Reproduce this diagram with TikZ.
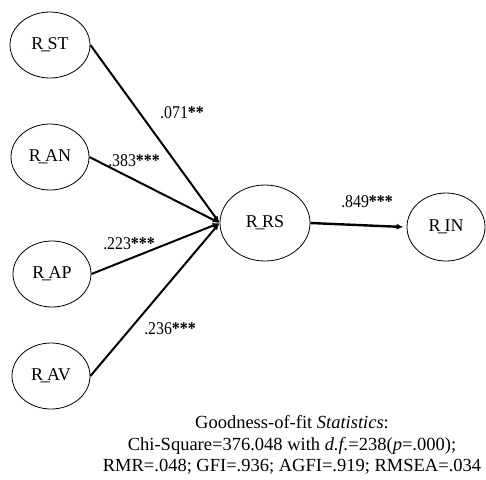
\documentclass[tikz,border=0pt]{standalone}
\usepackage{fontspec}
\usepackage{graphicx}
\setmainfont{Liberation Serif}
\usetikzlibrary{shapes.geometric,arrows.meta}
\newcommand\cf[1]{\scalebox{0.88}[1]{#1}}
\newcommand\vn[2]{#1\kern-2.5pt\_\kern-2.5pt#2}
\begin{document}
\begin{tikzpicture}[x=1pt,y=-1pt,
  latent/.style={draw,ellipse,line width=0.8pt,inner sep=0pt,font=\fontsize{18}{20}\selectfont},
  path/.style={line width=2pt,-{Latex[length=7pt,width=5.5pt]}},
  coef/.style={inner sep=0pt,font=\fontsize{18}{20}\selectfont},
  stats/.style={align=center,inner sep=0pt,font=\fontsize{18.5}{21.5}\selectfont}]
\useasboundingbox (0,0) rectangle (486,479);
\node[latent,minimum width=80pt,minimum height=66pt] (st) at (50,45) {\vn{R}{ST}};
\node[latent,minimum width=78pt,minimum height=66pt] (an) at (50,157) {\vn{R}{AN}};
\node[latent,minimum width=78pt,minimum height=66pt] (ap) at (52,274) {\vn{R}{AP}};
\node[latent,minimum width=78pt,minimum height=66pt] (av) at (51,376) {\vn{R}{AV}};
\node[latent,minimum width=90pt,minimum height=76pt] (rs) at (265,223) {\vn{R}{RS}};
\node[latent,minimum width=78pt,minimum height=68pt] (in) at (446,227) {\vn{R}{IN}};
\draw[path] (st.east) -- (rs.west);
\draw[path] (an.east) -- (rs.west);
\draw[path] (ap.east) -- (rs.west);
\draw[path] (av.east) -- (rs.west);
\draw[line width=2.4pt,-{Latex[length=7pt,width=6pt]}] (rs.east) -- ([xshift=-3pt]in.west);
\node[coef] (l1) at (182,113) {\cf{.071\textbf{**}}};
\node[coef] (l2) at (134,161) {\cf{.383\textbf{***}}};
\node[coef] (l3) at (129,244) {\cf{.223\textbf{***}}};
\node[coef] (l4) at (170,329) {\cf{.236\textbf{***}}};
\node[coef] (l5) at (367,202) {\cf{.849\textbf{***}}};
\node[stats] (fit) at (292,445) {Goodness-of-fit \textit{Statistics}:\\
Chi-Square=376.048 with \textit{d.f.}=238(\textit{p}=.000);\\
RMR=.048; GFI=.936; AGFI=.919; RMSEA=.034};
\end{tikzpicture}
\end{document}
